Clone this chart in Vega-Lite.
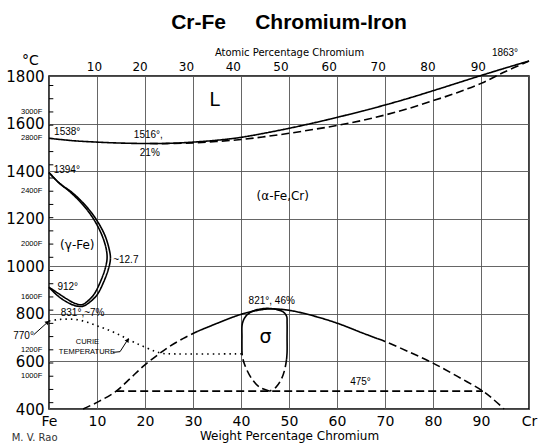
{
  "$schema": "https://vega.github.io/schema/vega-lite/v6.json",
  "width": 480,
  "height": 333,
  "autosize": "none",
  "padding": {"left": 49, "top": 76, "right": 10, "bottom": 35},
  "background": "white",
  "title": {"text": "Cr-Fe\u00a0\u00a0\u00a0\u00a0\u00a0Chromium-Iron", "font": "Liberation Sans", "fontSize": 21, "fontWeight": "bold", "color": "black", "anchor": "middle", "offset": 14},
  "config": {"view": {"stroke": "black", "strokeWidth": 1.5}, "axis": {"domain": false, "ticks": false}},
  "datasets": {
    "curves": [
      {"line": "liquidus", "type": "measured", "i": 0, "w": 0, "t": 1538},
      {"line": "liquidus", "type": "measured", "i": 1, "w": 5, "t": 1528},
      {"line": "liquidus", "type": "measured", "i": 2, "w": 10, "t": 1522},
      {"line": "liquidus", "type": "measured", "i": 3, "w": 15, "t": 1518},
      {"line": "liquidus", "type": "measured", "i": 4, "w": 21, "t": 1516},
      {"line": "liquidus", "type": "measured", "i": 5, "w": 25, "t": 1517},
      {"line": "liquidus", "type": "measured", "i": 6, "w": 30, "t": 1522},
      {"line": "liquidus", "type": "measured", "i": 7, "w": 35, "t": 1530},
      {"line": "liquidus", "type": "measured", "i": 8, "w": 40, "t": 1542},
      {"line": "liquidus", "type": "measured", "i": 9, "w": 45, "t": 1560},
      {"line": "liquidus", "type": "measured", "i": 10, "w": 50, "t": 1580},
      {"line": "liquidus", "type": "measured", "i": 11, "w": 55, "t": 1602},
      {"line": "liquidus", "type": "measured", "i": 12, "w": 60, "t": 1626},
      {"line": "liquidus", "type": "measured", "i": 13, "w": 65, "t": 1651},
      {"line": "liquidus", "type": "measured", "i": 14, "w": 70, "t": 1678},
      {"line": "liquidus", "type": "measured", "i": 15, "w": 75, "t": 1707},
      {"line": "liquidus", "type": "measured", "i": 16, "w": 80, "t": 1738},
      {"line": "liquidus", "type": "measured", "i": 17, "w": 85, "t": 1770},
      {"line": "liquidus", "type": "measured", "i": 18, "w": 90, "t": 1802},
      {"line": "liquidus", "type": "measured", "i": 19, "w": 95, "t": 1833},
      {"line": "liquidus", "type": "measured", "i": 20, "w": 100, "t": 1863},
      {"line": "solidus", "type": "estimated", "i": 0, "w": 21, "t": 1516},
      {"line": "solidus", "type": "estimated", "i": 1, "w": 25, "t": 1516},
      {"line": "solidus", "type": "estimated", "i": 2, "w": 30, "t": 1519},
      {"line": "solidus", "type": "estimated", "i": 3, "w": 35, "t": 1525},
      {"line": "solidus", "type": "estimated", "i": 4, "w": 40, "t": 1533},
      {"line": "solidus", "type": "estimated", "i": 5, "w": 45, "t": 1545},
      {"line": "solidus", "type": "estimated", "i": 6, "w": 50, "t": 1559},
      {"line": "solidus", "type": "estimated", "i": 7, "w": 55, "t": 1575},
      {"line": "solidus", "type": "estimated", "i": 8, "w": 60, "t": 1592},
      {"line": "solidus", "type": "estimated", "i": 9, "w": 65, "t": 1612},
      {"line": "solidus", "type": "estimated", "i": 10, "w": 70, "t": 1636},
      {"line": "solidus", "type": "estimated", "i": 11, "w": 75, "t": 1664},
      {"line": "solidus", "type": "estimated", "i": 12, "w": 80, "t": 1696},
      {"line": "solidus", "type": "estimated", "i": 13, "w": 85, "t": 1730},
      {"line": "solidus", "type": "estimated", "i": 14, "w": 90, "t": 1769},
      {"line": "solidus", "type": "estimated", "i": 15, "w": 95, "t": 1818},
      {"line": "solidus", "type": "estimated", "i": 16, "w": 100, "t": 1863},
      {"line": "gamma outer", "type": "measured", "i": 0, "w": 0, "t": 1394},
      {"line": "gamma outer", "type": "measured", "i": 1, "w": 2.2, "t": 1349},
      {"line": "gamma outer", "type": "measured", "i": 2, "w": 5, "t": 1307},
      {"line": "gamma outer", "type": "measured", "i": 3, "w": 7.8, "t": 1251},
      {"line": "gamma outer", "type": "measured", "i": 4, "w": 9.9, "t": 1195},
      {"line": "gamma outer", "type": "measured", "i": 5, "w": 11.6, "t": 1132},
      {"line": "gamma outer", "type": "measured", "i": 6, "w": 12.5, "t": 1075},
      {"line": "gamma outer", "type": "measured", "i": 7, "w": 12.8, "t": 1034},
      {"line": "gamma outer", "type": "measured", "i": 8, "w": 12.4, "t": 990},
      {"line": "gamma outer", "type": "measured", "i": 9, "w": 11.3, "t": 930},
      {"line": "gamma outer", "type": "measured", "i": 10, "w": 9.9, "t": 877},
      {"line": "gamma outer", "type": "measured", "i": 11, "w": 7.8, "t": 839},
      {"line": "gamma outer", "type": "measured", "i": 12, "w": 6.75, "t": 831},
      {"line": "gamma outer", "type": "measured", "i": 13, "w": 5.2, "t": 836},
      {"line": "gamma outer", "type": "measured", "i": 14, "w": 3.6, "t": 851},
      {"line": "gamma outer", "type": "measured", "i": 15, "w": 1.7, "t": 878},
      {"line": "gamma outer", "type": "measured", "i": 16, "w": 0, "t": 912},
      {"line": "gamma inner", "type": "measured", "i": 0, "w": 0, "t": 1394},
      {"line": "gamma inner", "type": "measured", "i": 1, "w": 2, "t": 1352},
      {"line": "gamma inner", "type": "measured", "i": 2, "w": 4.6, "t": 1309},
      {"line": "gamma inner", "type": "measured", "i": 3, "w": 7.3, "t": 1253},
      {"line": "gamma inner", "type": "measured", "i": 4, "w": 9.4, "t": 1195},
      {"line": "gamma inner", "type": "measured", "i": 5, "w": 11, "t": 1132},
      {"line": "gamma inner", "type": "measured", "i": 6, "w": 11.9, "t": 1075},
      {"line": "gamma inner", "type": "measured", "i": 7, "w": 12.1, "t": 1034},
      {"line": "gamma inner", "type": "measured", "i": 8, "w": 11.7, "t": 990},
      {"line": "gamma inner", "type": "measured", "i": 9, "w": 10.6, "t": 930},
      {"line": "gamma inner", "type": "measured", "i": 10, "w": 9.3, "t": 880},
      {"line": "gamma inner", "type": "measured", "i": 11, "w": 7.6, "t": 846},
      {"line": "gamma inner", "type": "measured", "i": 12, "w": 6.75, "t": 838},
      {"line": "gamma inner", "type": "measured", "i": 13, "w": 5.2, "t": 846},
      {"line": "gamma inner", "type": "measured", "i": 14, "w": 3.6, "t": 864},
      {"line": "gamma inner", "type": "measured", "i": 15, "w": 1.7, "t": 889},
      {"line": "gamma inner", "type": "measured", "i": 16, "w": 0, "t": 912},
      {"line": "sigma solvus left", "type": "estimated", "i": 0, "w": 7.1, "t": 400},
      {"line": "sigma solvus left", "type": "estimated", "i": 1, "w": 10.5, "t": 433},
      {"line": "sigma solvus left", "type": "estimated", "i": 2, "w": 14, "t": 475},
      {"line": "sigma solvus left", "type": "estimated", "i": 3, "w": 17, "t": 530},
      {"line": "sigma solvus left", "type": "estimated", "i": 4, "w": 19.6, "t": 579},
      {"line": "sigma solvus left", "type": "estimated", "i": 5, "w": 22.5, "t": 625},
      {"line": "sigma solvus left", "type": "estimated", "i": 6, "w": 25.1, "t": 663},
      {"line": "sigma solvus left", "type": "estimated", "i": 7, "w": 28, "t": 697},
      {"line": "sigma solvus left", "type": "estimated", "i": 8, "w": 31, "t": 727},
      {"line": "sigma solvus top", "type": "measured", "i": 0, "w": 31, "t": 727},
      {"line": "sigma solvus top", "type": "measured", "i": 1, "w": 35, "t": 760},
      {"line": "sigma solvus top", "type": "measured", "i": 2, "w": 39.7, "t": 796},
      {"line": "sigma solvus top", "type": "measured", "i": 3, "w": 43, "t": 813},
      {"line": "sigma solvus top", "type": "measured", "i": 4, "w": 46, "t": 821},
      {"line": "sigma solvus top", "type": "measured", "i": 5, "w": 50, "t": 815},
      {"line": "sigma solvus top", "type": "measured", "i": 6, "w": 55, "t": 792},
      {"line": "sigma solvus top", "type": "measured", "i": 7, "w": 60, "t": 761},
      {"line": "sigma solvus top", "type": "measured", "i": 8, "w": 65, "t": 722},
      {"line": "sigma solvus top", "type": "measured", "i": 9, "w": 68.5, "t": 695},
      {"line": "sigma solvus right", "type": "estimated", "i": 0, "w": 68.5, "t": 695},
      {"line": "sigma solvus right", "type": "estimated", "i": 1, "w": 70, "t": 684},
      {"line": "sigma solvus right", "type": "estimated", "i": 2, "w": 75, "t": 640},
      {"line": "sigma solvus right", "type": "estimated", "i": 3, "w": 80, "t": 593},
      {"line": "sigma solvus right", "type": "estimated", "i": 4, "w": 85, "t": 538},
      {"line": "sigma solvus right", "type": "estimated", "i": 5, "w": 90.4, "t": 475},
      {"line": "sigma solvus right", "type": "estimated", "i": 6, "w": 92.6, "t": 440},
      {"line": "sigma solvus right", "type": "estimated", "i": 7, "w": 94.8, "t": 400},
      {"line": "475 miscibility", "type": "estimated", "i": 0, "w": 14, "t": 475},
      {"line": "475 miscibility", "type": "estimated", "i": 1, "w": 90.4, "t": 475},
      {"line": "sigma left", "type": "estimated", "i": 0, "w": 46, "t": 475},
      {"line": "sigma left", "type": "estimated", "i": 1, "w": 44, "t": 490},
      {"line": "sigma left", "type": "estimated", "i": 2, "w": 42.5, "t": 520},
      {"line": "sigma left", "type": "estimated", "i": 3, "w": 41.2, "t": 565},
      {"line": "sigma left", "type": "estimated", "i": 4, "w": 40.4, "t": 610},
      {"line": "sigma left", "type": "estimated", "i": 5, "w": 40.2, "t": 640},
      {"line": "sigma top", "type": "measured", "i": 0, "w": 40.2, "t": 640},
      {"line": "sigma top", "type": "measured", "i": 1, "w": 40.2, "t": 700},
      {"line": "sigma top", "type": "measured", "i": 2, "w": 40.3, "t": 760},
      {"line": "sigma top", "type": "measured", "i": 3, "w": 41, "t": 790},
      {"line": "sigma top", "type": "measured", "i": 4, "w": 42.5, "t": 812},
      {"line": "sigma top", "type": "measured", "i": 5, "w": 44, "t": 820},
      {"line": "sigma top", "type": "measured", "i": 6, "w": 45.6, "t": 823},
      {"line": "sigma top", "type": "measured", "i": 7, "w": 47.3, "t": 819},
      {"line": "sigma top", "type": "measured", "i": 8, "w": 48.8, "t": 808},
      {"line": "sigma top", "type": "measured", "i": 9, "w": 49.5, "t": 790},
      {"line": "sigma top", "type": "measured", "i": 10, "w": 49.6, "t": 760},
      {"line": "sigma top", "type": "measured", "i": 11, "w": 49.6, "t": 700},
      {"line": "sigma top", "type": "measured", "i": 12, "w": 49.6, "t": 640},
      {"line": "sigma top", "type": "measured", "i": 13, "w": 49.5, "t": 610},
      {"line": "sigma right", "type": "estimated", "i": 0, "w": 49.5, "t": 610},
      {"line": "sigma right", "type": "estimated", "i": 1, "w": 49.1, "t": 565},
      {"line": "sigma right", "type": "estimated", "i": 2, "w": 48.4, "t": 525},
      {"line": "sigma right", "type": "estimated", "i": 3, "w": 47.3, "t": 492},
      {"line": "sigma right", "type": "estimated", "i": 4, "w": 46, "t": 475},
      {"line": "curie", "type": "magnetic", "i": 0, "w": 0, "t": 770},
      {"line": "curie", "type": "magnetic", "i": 1, "w": 2, "t": 776},
      {"line": "curie", "type": "magnetic", "i": 2, "w": 4, "t": 778},
      {"line": "curie", "type": "magnetic", "i": 3, "w": 6, "t": 775},
      {"line": "curie", "type": "magnetic", "i": 4, "w": 8, "t": 765},
      {"line": "curie", "type": "magnetic", "i": 5, "w": 10, "t": 750},
      {"line": "curie", "type": "magnetic", "i": 6, "w": 12, "t": 735},
      {"line": "curie", "type": "magnetic", "i": 7, "w": 14, "t": 718},
      {"line": "curie", "type": "magnetic", "i": 8, "w": 16, "t": 698},
      {"line": "curie", "type": "magnetic", "i": 9, "w": 18, "t": 678},
      {"line": "curie", "type": "magnetic", "i": 10, "w": 20, "t": 660},
      {"line": "curie", "type": "magnetic", "i": 11, "w": 22, "t": 643},
      {"line": "curie", "type": "magnetic", "i": 12, "w": 23.5, "t": 634},
      {"line": "curie", "type": "magnetic", "i": 13, "w": 25, "t": 632},
      {"line": "curie", "type": "magnetic", "i": 14, "w": 40.2, "t": 632},
      {"line": "770 arrow", "type": "leader", "i": 0, "w": -3.2, "t": 712},
      {"line": "770 arrow", "type": "leader", "i": 1, "w": -0.5, "t": 761},
      {"line": "curie arrow", "type": "leader", "i": 0, "w": 13.3, "t": 638},
      {"line": "curie arrow", "type": "leader", "i": 1, "w": 14.8, "t": 641},
      {"line": "curie arrow", "type": "leader", "i": 2, "w": 16.2, "t": 685}
    ],
    "arrows": [
      {"arrow": "770", "w": -0.3, "t": 765},
      {"arrow": "curie", "w": 16.4, "t": 690}
    ],
    "fticks": [
      {"F": 800, "t": 426.67}, {"F": 900, "t": 482.22}, {"F": 1000, "t": 537.78}, {"F": 1100, "t": 593.33},
      {"F": 1200, "t": 648.89}, {"F": 1300, "t": 704.44}, {"F": 1400, "t": 760}, {"F": 1500, "t": 815.56},
      {"F": 1600, "t": 871.11}, {"F": 1700, "t": 926.67}, {"F": 1800, "t": 982.22}, {"F": 1900, "t": 1037.78},
      {"F": 2000, "t": 1093.33}, {"F": 2100, "t": 1148.89}, {"F": 2200, "t": 1204.44}, {"F": 2300, "t": 1260},
      {"F": 2400, "t": 1315.56}, {"F": 2500, "t": 1371.11}, {"F": 2600, "t": 1426.67}, {"F": 2700, "t": 1482.22},
      {"F": 2800, "t": 1537.78}, {"F": 2900, "t": 1593.33}, {"F": 3000, "t": 1648.89}, {"F": 3100, "t": 1704.44},
      {"F": 3200, "t": 1760}
    ],
    "flabels": [
      {"label": "1000F", "w": -1.4, "t": 537.78},
      {"label": "1200F", "w": -1.4, "t": 648.89},
      {"label": "1600F", "w": -1.4, "t": 871.11},
      {"label": "2000F", "w": -1.4, "t": 1093.33},
      {"label": "2400F", "w": -1.4, "t": 1315.56},
      {"label": "2800F", "w": -1.4, "t": 1537.78},
      {"label": "3000F", "w": -1.4, "t": 1648.89}
    ],
    "labels": [
      {"text": "L", "kind": "main phase", "w": 34.5, "t": 1699},
      {"text": "σ", "kind": "main phase", "w": 45.1, "t": 703},
      {"text": "(γ-Fe)", "kind": "phase", "w": 5.9, "t": 1090},
      {"text": "(α-Fe,Cr)", "kind": "phase", "w": 48.7, "t": 1296},
      {"text": "1538°", "kind": "note", "w": 3.8, "t": 1566},
      {"text": "1516°,", "kind": "note", "w": 20.7, "t": 1552},
      {"text": "21%", "kind": "note", "w": 21, "t": 1477},
      {"text": "1394°", "kind": "note", "w": 3.7, "t": 1405},
      {"text": "~12.7", "kind": "note", "w": 16, "t": 1027},
      {"text": "912°", "kind": "note", "w": 3.9, "t": 915},
      {"text": "831°,~7%", "kind": "note", "w": 7, "t": 805},
      {"text": "770°", "kind": "note", "w": -5.3, "t": 708},
      {"text": "821°, 46%", "kind": "note", "w": 46.4, "t": 856},
      {"text": "475°", "kind": "note", "w": 64.9, "t": 512},
      {"text": "1863°", "kind": "note", "w": 95, "t": 1895},
      {"text": "CURIE", "kind": "curie", "w": 8, "t": 680},
      {"text": "TEMPERATURE", "kind": "curie", "w": 7.9, "t": 638},
      {"text": "M. V. Rao", "kind": "credit", "w": -3, "t": 278}
    ]
  },
  "layer": [
    {
      "data": {"name": "curves"},
      "transform": [{"filter": "datum.type !== 'leader'"}],
      "mark": {"type": "line", "color": "black", "strokeWidth": 1.6, "interpolate": "catmull-rom"},
      "encoding": {
        "x": {"field": "w", "type": "quantitative", "scale": {"domain": [0, 100], "nice": false, "zero": false},
          "axis": {"orient": "bottom", "values": [0, 10, 20, 30, 40, 50, 60, 70, 80, 90, 100],
            "labelExpr": "datum.value == 0 ? 'Fe' : datum.value == 100 ? 'Cr' : datum.label",
            "grid": true, "gridColor": "#555", "gridWidth": 0.9,
            "labelFont": "DejaVu Sans", "labelFontSize": 14, "labelColor": "black", "labelPadding": 5,
            "labelFlush": false, "labelOverlap": false,
            "title": "Weight Percentage Chromium", "titleFont": "DejaVu Sans", "titleFontSize": 12,
            "titleFontWeight": "normal", "titleColor": "black", "titlePadding": 2}},
        "y": {"field": "t", "type": "quantitative", "scale": {"domain": [400, 1800], "nice": false, "zero": false},
          "axis": {"orient": "left",
            "values": [400, 600, 800, 1000, 1200, 1400, 1600, 1800], "format": "d",
            "grid": true, "gridColor": "#555", "gridWidth": 0.9,
            "labelFont": "DejaVu Sans", "labelFontSize": 15, "labelColor": "black", "labelPadding": 5,
            "labelFlush": false, "labelOverlap": false,
            "title": "°C", "titleAngle": 0, "titleAlign": "center", "titleBaseline": "middle",
            "titleX": -19, "titleY": -16, "titleFont": "DejaVu Sans", "titleFontSize": 14,
            "titleFontWeight": "normal", "titleColor": "black"}},
        "detail": {"field": "line"},
        "order": {"field": "i", "type": "quantitative"},
        "strokeDash": {"field": "type", "type": "nominal",
          "scale": {"domain": ["measured", "estimated", "magnetic"], "range": [[1, 0], [8, 4], [1.5, 4]]},
          "legend": null}
      }
    },
    {
      "data": {"name": "curves"},
      "transform": [{"filter": "datum.type === 'leader'"}],
      "mark": {"type": "line", "color": "black", "strokeWidth": 1},
      "encoding": {
        "x": {"field": "w", "type": "quantitative", "scale": {"domain": [0, 100], "nice": false, "zero": false}, "axis": null},
        "y": {"field": "t", "type": "quantitative", "scale": {"domain": [400, 1800], "nice": false, "zero": false}, "axis": null},
        "detail": {"field": "line"},
        "order": {"field": "i", "type": "quantitative"}
      }
    },
    {
      "data": {"name": "arrows"},
      "transform": [{"filter": "datum.arrow === '770'"}],
      "mark": {"type": "point", "shape": "triangle-up", "filled": true, "color": "black", "opacity": 1, "size": 22, "angle": 48},
      "encoding": {
        "x": {"field": "w", "type": "quantitative", "scale": {"domain": [0, 100], "nice": false, "zero": false}, "axis": null},
        "y": {"field": "t", "type": "quantitative", "scale": {"domain": [400, 1800], "nice": false, "zero": false}, "axis": null}
      }
    },
    {
      "data": {"name": "arrows"},
      "transform": [{"filter": "datum.arrow === 'curie'"}],
      "mark": {"type": "point", "shape": "triangle-up", "filled": true, "color": "black", "opacity": 1, "size": 22, "angle": 33},
      "encoding": {
        "x": {"field": "w", "type": "quantitative", "scale": {"domain": [0, 100], "nice": false, "zero": false}, "axis": null},
        "y": {"field": "t", "type": "quantitative", "scale": {"domain": [400, 1800], "nice": false, "zero": false}, "axis": null}
      }
    },
    {
      "data": {"name": "fticks"},
      "mark": {"type": "rule", "color": "black", "strokeWidth": 1},
      "encoding": {
        "x": {"datum": 0, "type": "quantitative", "scale": {"domain": [0, 100], "nice": false, "zero": false}, "axis": null},
        "x2": {"datum": 0.9},
        "y": {"field": "t", "type": "quantitative", "scale": {"domain": [400, 1800], "nice": false, "zero": false}, "axis": null}
      }
    },
    {
      "data": {"name": "flabels"},
      "mark": {"type": "text", "font": "Liberation Sans", "fontSize": 7.5, "color": "black", "align": "right", "baseline": "middle"},
      "encoding": {
        "x": {"field": "w", "type": "quantitative", "scale": {"domain": [0, 100], "nice": false, "zero": false}, "axis": null},
        "y": {"field": "t", "type": "quantitative", "scale": {"domain": [400, 1800], "nice": false, "zero": false}, "axis": null},
        "text": {"field": "label"}
      }
    },
    {
      "data": {"name": "labels"},
      "transform": [{"filter": "datum.kind === 'note'"}],
      "mark": {"type": "text", "font": "Liberation Sans", "fontSize": 10, "color": "black", "align": "center", "baseline": "middle"},
      "encoding": {
        "x": {"field": "w", "type": "quantitative", "scale": {"domain": [0, 100], "nice": false, "zero": false},
          "axis": {"orient": "top",
            "values": [9.375, 18.88, 28.52, 38.3, 48.21, 58.27, 68.48, 78.83, 89.34],
            "labelExpr": "format(100 * (datum.value / 52) / ((datum.value / 52) + ((100 - datum.value) / 55.85)), '.0f')",
            "grid": false, "labelFont": "DejaVu Sans", "labelFontSize": 12, "labelColor": "black", "labelPadding": 3,
            "labelFlush": false, "labelOverlap": false,
            "title": "Atomic Percentage Chromium", "titleFont": "DejaVu Sans", "titleFontSize": 10,
            "titleFontWeight": "normal", "titleColor": "black", "titlePadding": 3}},
        "y": {"field": "t", "type": "quantitative", "scale": {"domain": [400, 1800], "nice": false, "zero": false}, "axis": null},
        "text": {"field": "text"}
      }
    },
    {
      "data": {"name": "labels"},
      "transform": [{"filter": "datum.kind === 'phase'"}],
      "mark": {"type": "text", "font": "DejaVu Sans", "fontSize": 12, "color": "black", "align": "center", "baseline": "middle"},
      "encoding": {
        "x": {"field": "w", "type": "quantitative", "scale": {"domain": [0, 100], "nice": false, "zero": false}, "axis": null},
        "y": {"field": "t", "type": "quantitative", "scale": {"domain": [400, 1800], "nice": false, "zero": false}, "axis": null},
        "text": {"field": "text"}
      }
    },
    {
      "data": {"name": "labels"},
      "transform": [{"filter": "datum.kind === 'main phase'"}],
      "mark": {"type": "text", "font": "DejaVu Sans", "fontSize": 19, "color": "black", "align": "center", "baseline": "middle"},
      "encoding": {
        "x": {"field": "w", "type": "quantitative", "scale": {"domain": [0, 100], "nice": false, "zero": false}, "axis": null},
        "y": {"field": "t", "type": "quantitative", "scale": {"domain": [400, 1800], "nice": false, "zero": false}, "axis": null},
        "text": {"field": "text"}
      }
    },
    {
      "data": {"name": "labels"},
      "transform": [{"filter": "datum.kind === 'curie'"}],
      "mark": {"type": "text", "font": "Liberation Sans", "fontSize": 7.5, "color": "black", "align": "center", "baseline": "middle"},
      "encoding": {
        "x": {"field": "w", "type": "quantitative", "scale": {"domain": [0, 100], "nice": false, "zero": false}, "axis": null},
        "y": {"field": "t", "type": "quantitative", "scale": {"domain": [400, 1800], "nice": false, "zero": false}, "axis": null},
        "text": {"field": "text"}
      }
    },
    {
      "data": {"name": "labels"},
      "transform": [{"filter": "datum.kind === 'credit'"}],
      "mark": {"type": "text", "font": "DejaVu Sans", "fontSize": 10, "color": "#333", "align": "center", "baseline": "middle"},
      "encoding": {
        "x": {"field": "w", "type": "quantitative", "scale": {"domain": [0, 100], "nice": false, "zero": false}, "axis": null},
        "y": {"field": "t", "type": "quantitative", "scale": {"domain": [400, 1800], "nice": false, "zero": false}, "axis": null},
        "text": {"field": "text"}
      }
    }
  ],
  "resolve": {"axis": {"x": "independent", "y": "independent"}}
}
